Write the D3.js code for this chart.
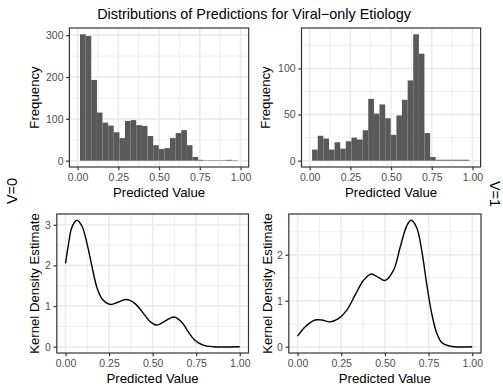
<!DOCTYPE html>
<html>
<head>
<meta charset="utf-8">
<script src="https://d3js.org/d3.v7.min.js"></script>
<style>
  body { margin: 0; background: #fff; }
  svg { display: block; font-family: "Liberation Sans", Arial, sans-serif; }
</style>
</head>
<body>
<svg id="chart" width="503" height="384"></svg>
<script>
// histogram bin edges (predicted value)
var binEdges = [0.015, 0.050, 0.084, 0.119, 0.153, 0.188, 0.222, 0.257, 0.291, 0.326,
  0.360, 0.395, 0.429, 0.464, 0.498, 0.533, 0.567, 0.602, 0.636, 0.671,
  0.705, 0.740, 0.774, 0.809, 0.843, 0.878, 0.912, 0.947, 0.981];
// counts, V=0
var countsV0 = [302, 298, 193, 115, 91, 84, 68, 54, 95, 97, 85, 83, 59, 37, 28, 30,
  54, 66, 73, 37, 9, 2, 1, 1, 1, 1, 2, 1];
// counts, V=1
var countsV1 = [12, 27, 24, 12, 20, 13, 21, 25, 23, 33, 67, 51, 61, 46, 28, 49,
  66, 87, 137, 116, 30, 4, 1, 1, 1, 1, 1, 1];

// kernel density estimates
var densX0 = [0, 0.017, 0.036, 0.065, 0.094, 0.122, 0.151, 0.18, 0.209, 0.256, 0.304, 0.351,
  0.399, 0.456, 0.485, 0.523, 0.571, 0.622, 0.666, 0.704, 0.742, 0.79, 0.848, 1.0];
var densY0 = [2.05, 2.52, 2.93, 3.11, 2.97, 2.56, 1.99, 1.46, 1.18, 1.04, 1.10, 1.16,
  1.06, 0.77, 0.62, 0.53, 0.63, 0.73, 0.61, 0.37, 0.16, 0.04, 0.0, 0.0];
var densX1 = [0, 0.043, 0.1, 0.138, 0.186, 0.234, 0.281, 0.329, 0.377, 0.42, 0.462, 0.5,
  0.549, 0.587, 0.625, 0.65, 0.682, 0.711, 0.739, 0.768, 0.797, 0.825, 0.873, 1.0];
var densY1 = [0.23, 0.43, 0.58, 0.58, 0.54, 0.61, 0.79, 1.12, 1.44, 1.58, 1.51, 1.44,
  1.66, 2.16, 2.63, 2.75, 2.59, 2.09, 1.37, 0.72, 0.29, 0.09, 0.01, 0];

var xTicks = [0, 0.25, 0.5, 0.75, 1];
var xMinor = [0.125, 0.375, 0.625, 0.875];

var svg = d3.select("#chart");

svg.append("text")
  .attr("x", 254).attr("y", 19)
  .attr("text-anchor", "middle")
  .attr("font-size", "14.4px")
  .attr("fill", "#000")
  .text("Distributions of Predictions for Viral\u2212only Etiology");

svg.append("text")
  .attr("transform", "translate(17,191) rotate(-90)")
  .attr("text-anchor", "middle")
  .attr("font-size", "14.4px")
  .text("V=0");
svg.append("text")
  .attr("transform", "translate(490,194) rotate(90)")
  .attr("text-anchor", "middle")
  .attr("font-size", "14.4px")
  .text("V=1");

function panel(p) {
  var g = svg.append("g");
  var yMax = p.yMax;
  var x = d3.scaleLinear().domain([-0.05, 1.05]).range([p.left, p.right]);
  var y = d3.scaleLinear().domain([-0.05 * yMax, 1.05 * yMax]).range([p.bottom, p.top]);

  // background grid
  g.selectAll(".ymin").data(p.yMinor).enter().append("line")
    .attr("x1", p.left).attr("x2", p.right)
    .attr("y1", function(d) { return y(d); }).attr("y2", function(d) { return y(d); })
    .attr("stroke", "#ebebeb").attr("stroke-width", 0.8);
  g.selectAll(".xmin").data(xMinor).enter().append("line")
    .attr("y1", p.top).attr("y2", p.bottom)
    .attr("x1", function(d) { return x(d); }).attr("x2", function(d) { return x(d); })
    .attr("stroke", "#ebebeb").attr("stroke-width", 0.8);
  g.selectAll(".ymaj").data(p.yTicks).enter().append("line")
    .attr("x1", p.left).attr("x2", p.right)
    .attr("y1", function(d) { return y(d); }).attr("y2", function(d) { return y(d); })
    .attr("stroke", "#ebebeb").attr("stroke-width", 1.6);
  g.selectAll(".xmaj").data(xTicks).enter().append("line")
    .attr("y1", p.top).attr("y2", p.bottom)
    .attr("x1", function(d) { return x(d); }).attr("x2", function(d) { return x(d); })
    .attr("stroke", "#ebebeb").attr("stroke-width", 1.6);

  if (p.counts) {
    g.selectAll("rect.bar").data(p.counts).enter().append("rect")
      .attr("x", function(d, i) { return x(binEdges[i]); })
      .attr("width", function(d, i) { return x(binEdges[i + 1]) - x(binEdges[i]); })
      .attr("y", function(d) { return y(d); })
      .attr("height", function(d) { return y(0) - y(d); })
      .attr("fill", "#595959");
  } else {
    var pts = p.dx.map(function(v, i) { return [v, p.dy[i]]; });
    g.append("path")
      .attr("d", d3.line().x(function(d) { return x(d[0]); }).y(function(d) { return y(d[1]); })
        .curve(d3.curveCatmullRom)(pts))
      .attr("fill", "none").attr("stroke", "#000").attr("stroke-width", 1.4);
  }

  // border
  g.append("rect")
    .attr("x", p.left).attr("y", p.top)
    .attr("width", p.right - p.left).attr("height", p.bottom - p.top)
    .attr("fill", "none").attr("stroke", "#333").attr("stroke-width", 1.2);

  // axes
  var xa = g.append("g").attr("transform", "translate(0," + p.bottom + ")")
    .call(d3.axisBottom(x).tickValues(xTicks).tickFormat(d3.format(".2f")).tickSize(3.3).tickPadding(3.3));
  var ya = g.append("g").attr("transform", "translate(" + p.left + ",0)")
    .call(d3.axisLeft(y).tickValues(p.yTicks).tickFormat(d3.format("d")).tickSize(3.3).tickPadding(2.6));
  [xa, ya].forEach(function(a) {
    a.select(".domain").remove();
    a.selectAll("line").attr("stroke", "#333").attr("stroke-width", 1.2);
    a.selectAll("text").attr("fill", "#4d4d4d").attr("font-size", "10.5px")
      .attr("font-family", "Liberation Sans, Arial, sans-serif");
  });

  g.append("text")
    .attr("x", (p.left + p.right) / 2).attr("y", p.bottom + 29.5)
    .attr("text-anchor", "middle").attr("font-size", "13.2px")
    .text("Predicted Value");
  g.append("text")
    .attr("transform", "translate(" + p.titleX + "," + (p.top + p.bottom) / 2 + ") rotate(-90)")
    .attr("text-anchor", "middle").attr("font-size", "13.2px")
    .text(p.yTitle);
}

panel({ left: 69.4, right: 248.7, top: 28, bottom: 167, yMax: 302,
  yTicks: [0, 100, 200, 300], yMinor: [50, 150, 250],
  counts: countsV0, yTitle: "Frequency", titleX: 39 });
panel({ left: 301.5, right: 480.6, top: 28, bottom: 167, yMax: 137,
  yTicks: [0, 50, 100], yMinor: [25, 75, 125],
  counts: countsV1, yTitle: "Frequency", titleX: 270 });
panel({ left: 56.8, right: 248.5, top: 214, bottom: 353, yMax: 3.11,
  yTicks: [0, 1, 2, 3], yMinor: [0.5, 1.5, 2.5],
  dx: densX0, dy: densY0, yTitle: "Kernel Density Estimate", titleX: 39 });
panel({ left: 288.8, right: 481, top: 214, bottom: 353, yMax: 2.75,
  yTicks: [0, 1, 2], yMinor: [0.5, 1.5, 2.5],
  dx: densX1, dy: densY1, yTitle: "Kernel Density Estimate", titleX: 272 });
</script>
</body>
</html>
